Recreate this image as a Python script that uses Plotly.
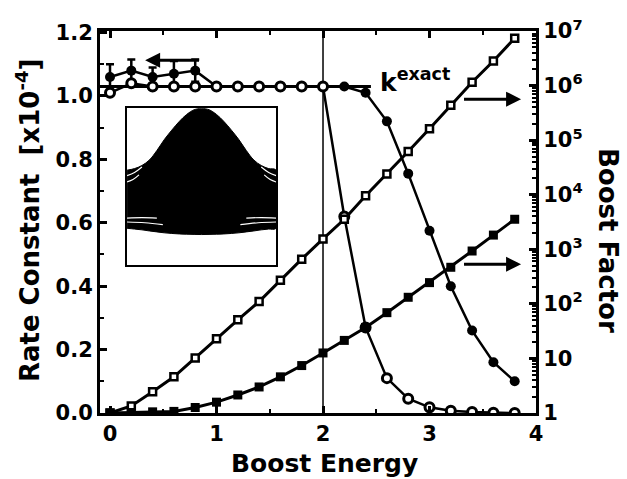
import plotly.graph_objects as go

# ---- data -------------------------------------------------------------
boost_energy = [0.0, 0.2, 0.4, 0.6, 0.8, 1.0, 1.2, 1.4, 1.6, 1.8,
                2.0, 2.2, 2.4, 2.6, 2.8, 3.0, 3.2, 3.4, 3.6, 3.8]

# rate constants [x1e-4]
rate_open = [1.01, 1.04, 1.03, 1.03, 1.03, 1.03, 1.03, 1.03, 1.03, 1.03,
             1.03, 0.62, 0.27, 0.11, 0.045, 0.018, 0.007, 0.003, 0.001, 0.0]
rate_filled = [1.06, 1.08, 1.06, 1.07, 1.08, 1.03, 1.03, 1.03, 1.03, 1.03,
               1.03, 1.03, 1.01, 0.92, 0.755, 0.575, 0.40, 0.26, 0.16, 0.10]
rate_filled_err = [0.04, 0.035, 0.03, 0.04, 0.035, 0, 0, 0, 0, 0,
                   0, 0, 0, 0, 0, 0, 0, 0, 0, 0]

# boost factors
boost_open = [1, 1.35, 2.45, 4.6, 10.2, 23, 51, 110, 270, 660,
              1550, 3550, 9550, 24000, 62000, 162000, 436000,
              1150000, 2820000, 7400000]
boost_filled = [1, 1.02, 1.05, 1.07, 1.26, 1.58, 2.14, 3.0, 4.6, 7.4,
                12.6, 21.4, 37, 69, 132, 245, 468, 930, 1820, 3550]

k_exact = 1.03
k_exact_span = [-0.1, 2.45]
barrier_energy = 2.0

left_ticks = [0.0, 0.2, 0.4, 0.6, 0.8, 1.0, 1.2]
right_tickvals = [1, 10, 100, 1e3, 1e4, 1e5, 1e6, 1e7]
right_ticktext = ["1", "10", "10<sup>2</sup>", "10<sup>3</sup>", "10<sup>4</sup>",
                  "10<sup>5</sup>", "10<sup>6</sup>", "10<sup>7</sup>"]

# inset: envelope of the boosted potential curves
inset_x = [0.0, 0.05, 0.10, 0.15, 0.20, 0.25, 0.30, 0.35, 0.40, 0.45, 0.5,
           0.55, 0.60, 0.65, 0.70, 0.75, 0.80, 0.85, 0.90, 0.95, 1.0]
inset_upper = [0.605, 0.615, 0.635, 0.67, 0.73, 0.80, 0.86, 0.915, 0.96, 0.99, 1.0,
               0.99, 0.96, 0.915, 0.86, 0.80, 0.73, 0.67, 0.635, 0.615, 0.605]
inset_lower = [0.235, 0.23, 0.225, 0.218, 0.212, 0.206, 0.202, 0.199, 0.197, 0.196, 0.195,
               0.196, 0.197, 0.199, 0.202, 0.206, 0.212, 0.218, 0.225, 0.23, 0.235]
wisps = [
    ([0.0, 0.05, 0.10], [0.57, 0.59, 0.625]),
    ([0.0, 0.04, 0.08], [0.53, 0.545, 0.575]),
    ([0.0, 0.12, 0.24], [0.275, 0.27, 0.258]),
    ([0.0, 0.10, 0.20], [0.30, 0.303, 0.30]),
]

FONT = "DejaVu Sans"
BLACK = "black"

fig = go.Figure()

# reference line k_exact and the vertical line at the boost threshold
fig.add_trace(go.Scatter(x=k_exact_span, y=[k_exact, k_exact], mode="lines",
                         line=dict(color=BLACK, width=3), yaxis="y",
                         showlegend=False, hoverinfo="skip"))
fig.add_trace(go.Scatter(x=[barrier_energy, barrier_energy], y=[0, 1.205],
                         mode="lines", line=dict(color=BLACK, width=1.5),
                         yaxis="y", showlegend=False, hoverinfo="skip"))

# boost factors (right axis, log)
fig.add_trace(go.Scatter(x=boost_energy, y=boost_open, yaxis="y2",
                         mode="lines+markers",
                         line=dict(color=BLACK, width=3),
                         marker=dict(symbol="square", size=7, color="white",
                                     line=dict(color=BLACK, width=2.5)),
                         showlegend=False))
fig.add_trace(go.Scatter(x=boost_energy, y=boost_filled, yaxis="y2",
                         mode="lines+markers",
                         line=dict(color=BLACK, width=3),
                         marker=dict(symbol="square", size=9, color=BLACK),
                         showlegend=False))

# rate constants (left axis)
fig.add_trace(go.Scatter(x=boost_energy, y=rate_filled, yaxis="y",
                         mode="lines+markers",
                         line=dict(color=BLACK, width=2.5),
                         marker=dict(symbol="circle", size=10, color=BLACK),
                         error_y=dict(type="data", array=rate_filled_err,
                                      color=BLACK, thickness=2.5, width=4),
                         showlegend=False))
fig.add_trace(go.Scatter(x=boost_energy, y=rate_open, yaxis="y",
                         mode="lines+markers",
                         line=dict(color=BLACK, width=2.5),
                         marker=dict(symbol="circle", size=9, color="white",
                                     line=dict(color=BLACK, width=3)),
                         showlegend=False))

# inset
poly_x = inset_x + inset_x[::-1]
poly_y = inset_upper + inset_lower[::-1]
fig.add_trace(go.Scatter(x=poly_x, y=poly_y, xaxis="x3", yaxis="y3",
                         mode="lines", fill="toself", fillcolor=BLACK,
                         line=dict(color=BLACK, width=1, shape="spline"),
                         showlegend=False, hoverinfo="skip"))
for wx, wy in wisps:
    for xs in (wx, [1 - v for v in wx]):
        fig.add_trace(go.Scatter(x=xs, y=wy, xaxis="x3", yaxis="y3",
                                 mode="lines",
                                 line=dict(color="white", width=1.2, shape="spline"),
                                 showlegend=False, hoverinfo="skip"))

tickfont = dict(family=FONT, size=21, color=BLACK, weight="bold")
titlefont = dict(family=FONT, size=26, color=BLACK, weight="bold")

fig.update_layout(
    width=627, height=479,
    margin=dict(l=100, r=91, t=31, b=66),
    paper_bgcolor="white", plot_bgcolor="white",
    showlegend=False,
    xaxis=dict(range=[-0.094, 4.0], tickvals=[0, 1, 2, 3, 4],
               ticks="inside", ticklen=7, tickwidth=2.5, tickcolor=BLACK,
               minor=dict(ticks="inside", ticklen=4, tickwidth=2,
                          tickcolor=BLACK, dtick=0.5),
               showline=True, linewidth=3, linecolor=BLACK, mirror="ticks",
               showgrid=False, zeroline=False, tickfont=tickfont,
               automargin=False),
    yaxis=dict(range=[0, 1.205], tickvals=left_ticks,
               tickformat=".1f",
               ticks="inside", ticklen=7, tickwidth=2.5, tickcolor=BLACK,
               minor=dict(ticks="inside", ticklen=4, tickwidth=2,
                          tickcolor=BLACK, dtick=0.1),
               showline=True, linewidth=3, linecolor=BLACK,
               showgrid=False, zeroline=False, tickfont=tickfont,
               automargin=False),
    yaxis2=dict(type="log", range=[0, 7.0], overlaying="y", side="right",
                tickvals=right_tickvals, ticktext=right_ticktext,
                ticks="inside", ticklen=7, tickwidth=2.5, tickcolor=BLACK,
                minor=dict(ticks="inside", ticklen=4, tickwidth=1.5,
                           tickcolor=BLACK, dtick="D1"),
                showline=True, linewidth=3, linecolor=BLACK,
                showgrid=False, zeroline=False, tickfont=tickfont,
                automargin=False),
    xaxis3=dict(domain=[0.062, 0.404], range=[0, 1], anchor="y3",
                showline=True, linewidth=2, linecolor=BLACK, mirror=True,
                showticklabels=False, ticks="", showgrid=False, zeroline=False),
    yaxis3=dict(domain=[0.387, 0.798], range=[0, 1], anchor="x3",
                showline=True, linewidth=2, linecolor=BLACK, mirror=True,
                showticklabels=False, ticks="", showgrid=False, zeroline=False),
)

# axis titles
fig.add_annotation(text="Boost Energy", xref="paper", yref="paper",
                   x=0.516, y=0, yshift=-50, showarrow=False,
                   xanchor="center", yanchor="middle",
                   font=dict(family=FONT, size=25, color=BLACK, weight="bold"))
fig.add_annotation(text="Rate Constant  [x10<sup>-4</sup>]", xref="paper",
                   yref="paper", x=0, xshift=-72, y=0.505, textangle=-90,
                   showarrow=False, xanchor="center", yanchor="middle",
                   font=titlefont)
fig.add_annotation(text="Boost Factor", xref="paper", yref="paper",
                   x=1.0, xshift=72, y=0.453, textangle=90, showarrow=False,
                   xanchor="center", yanchor="middle", font=titlefont)

# k_exact label
fig.add_annotation(text="k<sup>exact</sup>", x=2.52, y=k_exact, yref="y",
                   xanchor="left", yanchor="middle", yshift=6, showarrow=False,
                   font=dict(family=FONT, size=25, color=BLACK, weight="bold"))

# arrows pointing to the relevant axes
arrow_style = dict(showarrow=True, arrowhead=2, arrowsize=1, arrowwidth=3,
                   arrowcolor=BLACK, text="", axref="x")
fig.add_annotation(x=0.33, y=1.113, ax=0.85, ay=1.113, yref="y", ayref="y",
                   **arrow_style)
fig.add_annotation(x=3.86, y=0.99, ax=3.31, ay=0.99, yref="y", ayref="y",
                   **arrow_style)
fig.add_annotation(x=3.86, y=0.469, ax=3.31, ay=0.469, yref="y", ayref="y",
                   **arrow_style)

fig.write_html("out.html")
